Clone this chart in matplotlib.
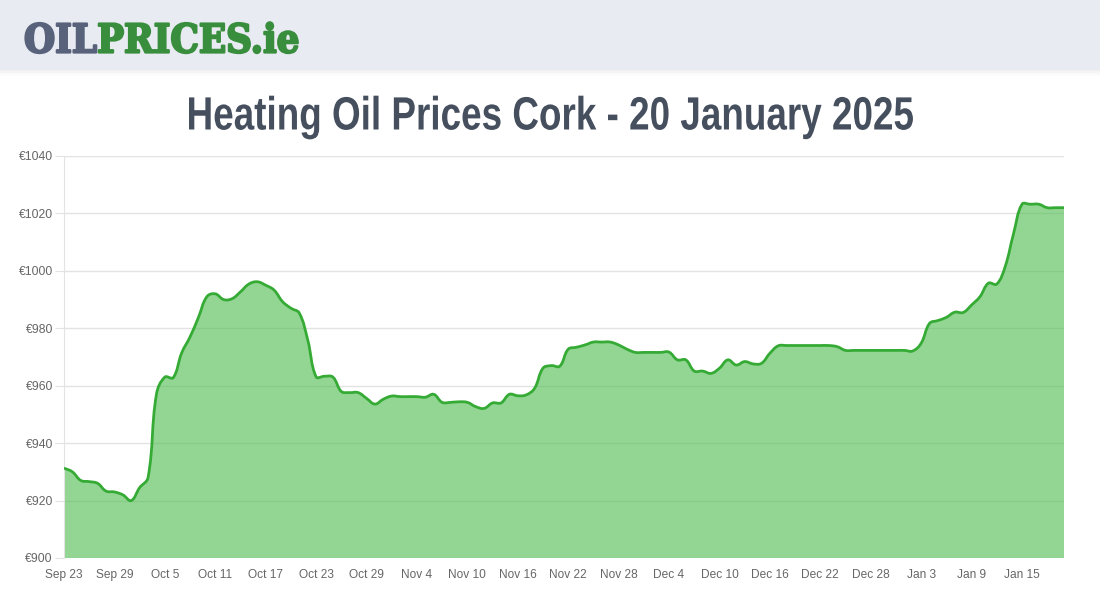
import numpy as np
import pandas as pd
import matplotlib
matplotlib.use("Agg")
import matplotlib.pyplot as plt
import matplotlib.patheffects as pe
from matplotlib.patches import Rectangle, PathPatch
from matplotlib.path import Path
from matplotlib.transforms import Affine2D

# daily prices, Sep 23 2024 .. Jan 20 2025
start_date = "2024-09-23"
prices = [
    931.3, 930.0, 927.0, 926.6, 926.0, 923.3, 923.0, 922.0, 920.0, 924.5,   # Sep 23 - Oct 2
    928.0, 957.0, 963.0, 962.8, 971.4, 977.0, 983.8, 991.0, 992.0, 990.0,   # Oct 3 - Oct 12
    990.3, 992.7, 995.4, 996.2, 995.0, 993.3, 989.3, 987.0, 985.3, 976.0,   # Oct 13 - Oct 22
    963.1, 963.3, 963.0, 958.0, 957.6, 957.6, 955.6, 953.6, 955.3, 956.4,   # Oct 23 - Nov 1
    956.2, 956.2, 956.2, 956.0, 957.0, 954.2, 954.2, 954.4, 954.2, 952.7,   # Nov 2 - Nov 11
    952.1, 954.0, 954.0, 957.0, 956.5, 956.8, 959.1, 966.1, 967.0, 966.8,   # Nov 12 - Nov 21
    972.7, 973.4, 974.2, 975.2, 975.2, 975.2, 974.2, 972.7, 971.6, 971.6,   # Nov 22 - Dec 1
    971.6, 971.6, 971.7, 969.0, 969.0, 965.1, 965.1, 964.3, 966.1, 969.0,   # Dec 2 - Dec 11
    967.2, 968.4, 967.6, 967.8, 971.3, 973.9, 974.0, 974.0, 974.0, 974.0,   # Dec 12 - Dec 21
    974.0, 974.0, 973.6, 972.3, 972.3, 972.3, 972.3, 972.3, 972.3, 972.3,   # Dec 22 - Dec 31
    972.3, 972.1, 974.8, 981.7, 982.7, 983.8, 985.6, 985.5, 988.1, 991.0,   # Jan 1 - Jan 10
    995.7, 995.4, 1001.5, 1013.0, 1023.2, 1023.2, 1023.2, 1022.0, 1022.0, 1022.0,  # Jan 11 - Jan 20
]
dates = pd.date_range(start_date, periods=len(prices), freq="D")
y_ticks = [900, 920, 940, 960, 980, 1000, 1020, 1040]
title = "Heating Oil Prices Cork - 20 January 2025"


class Squash(pe.AbstractPathEffect):
    # narrows glyphs horizontally around x=cx (pixels), optional outline to thicken
    def __init__(self, factor, cx, stroke=0):
        super().__init__()
        self.factor = factor
        self.cx = cx
        self.stroke = stroke

    def draw_path(self, renderer, gc, tpath, affine, rgbFace=None):
        t = affine + Affine2D().translate(-self.cx, 0).scale(self.factor, 1).translate(self.cx, 0)
        if self.stroke:
            gc0 = renderer.new_gc()
            gc0.copy_properties(gc)
            gc0.set_linewidth(self.stroke)
            gc0.set_foreground(rgbFace)
            gc0.set_joinstyle('round')
            renderer.draw_path(gc0, tpath, t, rgbFace)
            gc0.restore()
        else:
            renderer.draw_path(gc, tpath, t, rgbFace)


def smooth_path(xs, ys, sx, sy, tension=0.4):
    # bezier through the points, control points like chart.js (done in pixel space)
    px = np.asarray(xs, float) * sx
    py = np.asarray(ys, float) * sy
    n = len(px)
    verts = [(xs[0], ys[0])]
    codes = [Path.MOVETO]
    cin = []
    cout = []
    for i in range(n):
        p0 = i - 1 if i > 0 else i
        p2 = i + 1 if i < n - 1 else i
        d01 = np.hypot(px[i] - px[p0], py[i] - py[p0])
        d12 = np.hypot(px[p2] - px[i], py[p2] - py[i])
        tot = d01 + d12
        s01 = d01 / tot if tot else 0
        s12 = d12 / tot if tot else 0
        fa, fb = tension * s01, tension * s12
        dx, dy = px[p2] - px[p0], py[p2] - py[p0]
        cin.append(((px[i] - fa * dx) / sx, (py[i] - fa * dy) / sy))
        cout.append(((px[i] + fb * dx) / sx, (py[i] + fb * dy) / sy))
    for i in range(1, n):
        verts += [cout[i - 1], cin[i], (xs[i], ys[i])]
        codes += [Path.CURVE4] * 3
    return verts, codes


plt.rcParams['font.family'] = ['Liberation Sans', 'DejaVu Sans']

fig = plt.figure(figsize=(11, 6), dpi=100)

# header band
fig.patches.append(Rectangle((0, 530/600), 1, 70/600, transform=fig.transFigure,
                             facecolor='#e9ebf2', edgecolor='none', zorder=0))
for i, a in enumerate([0.06, 0.04, 0.025, 0.012]):
    fig.patches.append(Rectangle((0, (529 - i*1.5)/600), 1, 1.5/600, transform=fig.transFigure,
                                 facecolor='black', alpha=a, edgecolor='none', zorder=0))
logo_font = dict(family=['DejaVu Serif'], weight='bold', size=28.6)
logo_fx = [Squash(0.9, 24, stroke=1.6)]
t1 = fig.text(24/1100, 1 - 52.5/600, "OIL", color='#58627a', va='baseline', ha='left',
              path_effects=logo_fx, **logo_font)
fig.canvas.draw()
bb = t1.get_window_extent()
x_pr = 24 + (bb.x1 - 24) * 0.9
fig.text(x_pr/1100, 1 - 52.5/600, "PRICES.ie", color='#388e3c', va='baseline', ha='left',
         path_effects=[Squash(0.9, x_pr, stroke=1.6)], **logo_font)

fig.text(0.5, 1 - 129.5/600, title, ha='center', va='baseline', fontsize=33.6,
         color='#454f5e', weight='bold', path_effects=[Squash(0.79, 550)])

ax = fig.add_axes([64/1100, 42/600, 1000/1100, 402/600])
x = np.arange(len(prices))
sx = 1000 / (len(prices) - 1)
sy = 402 / 140
verts, codes = smooth_path(x, prices, sx, sy)
fill_verts = verts + [(x[-1], 900), (x[0], 900), verts[0]]
fill_codes = codes + [Path.LINETO, Path.LINETO, Path.CLOSEPOLY]
ax.add_patch(PathPatch(Path(fill_verts, fill_codes), facecolor='#4cbb4c', alpha=0.6,
                       edgecolor='none', zorder=2))
ax.add_patch(PathPatch(Path(verts, codes), facecolor='none', edgecolor='#35ab35',
                       linewidth=2, zorder=3))

ax.set_xlim(0, len(prices) - 1)
ax.set_ylim(900, 1040)
ax.set_yticks(y_ticks)
ax.set_yticklabels([f"€{v}" for v in y_ticks])
tick_pos = x[::6]
ax.set_xticks(tick_pos)
ax.set_xticklabels([f"{d.strftime('%b')} {d.day}" for d in dates[::6]])
ax.tick_params(axis='y', length=6.5, color='#e3e3e3', labelsize=8.8, labelcolor='#666666', pad=1.5)
ax.tick_params(axis='x', length=0, labelsize=8.6, labelcolor='#666666', pad=8)
ax.grid(axis='y', color='#e3e3e3', linewidth=1, zorder=1)
ax.set_axisbelow(True)
for s in ['top', 'right', 'bottom']:
    ax.spines[s].set_visible(False)
ax.spines['left'].set_color('#e3e3e3')

fig.savefig("out.png", dpi=100)
